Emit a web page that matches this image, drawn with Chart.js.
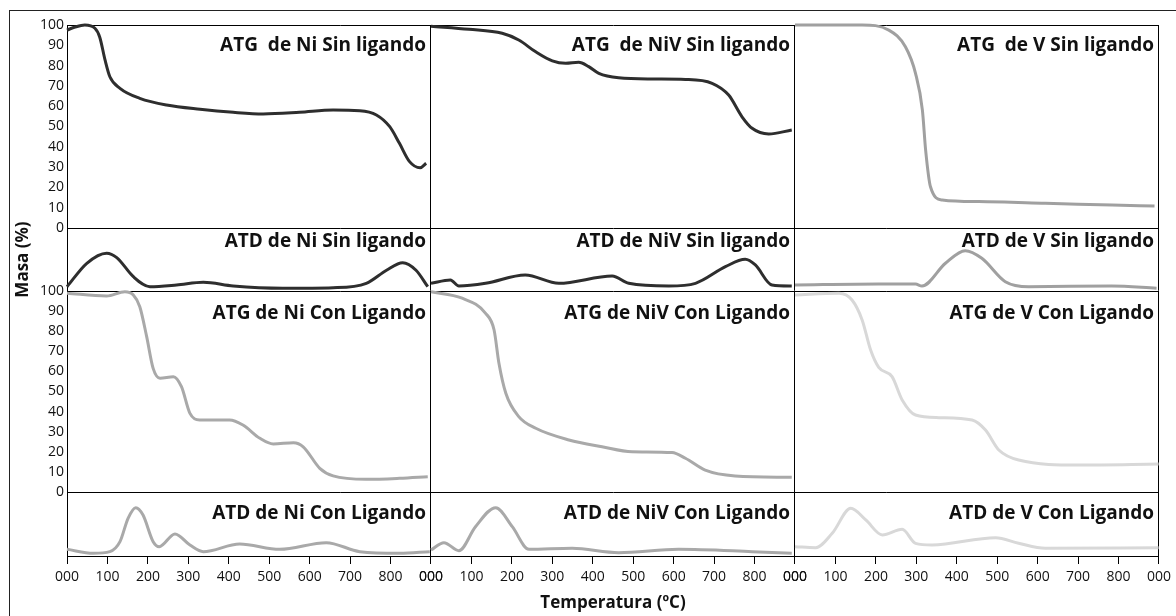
<!DOCTYPE html>
<html><head><meta charset="utf-8">
<script src="https://cdn.jsdelivr.net/npm/chart.js@4.4.1/dist/chart.umd.min.js"></script>
<style>html,body{margin:0;padding:0;background:#fff;overflow:hidden}#wrap{width:1176px;height:616px}</style>
</head><body><div id="wrap"><canvas id="c" width="1176" height="616"></canvas></div>
<script>
// ---------- data (temperature in ºC, mass in %, DTA in arbitrary units 0-100) ----------
const niSinTgT = [0, 20, 44, 69, 81, 94, 106, 131, 180, 246, 329, 411, 485, 575, 658, 724, 765, 798, 822, 847, 873, 888];
const niSinTgM = [97.5, 99, 100, 98.4, 94, 82.8, 74.5, 68.8, 63.9, 60.6, 58.5, 57.0, 56.2, 57, 58.1, 57.8, 55.7, 49.9, 41.7, 32.7, 29.7, 31.9];
const niSinTdT = [0, 49, 98, 123, 164, 205, 271, 337, 411, 534, 658, 740, 790, 830, 863, 892];
const niSinTdV = [6.8, 44, 60, 53, 22.7, 6.8, 9.5, 13.8, 7.9, 4.3, 5.2, 12.2, 33, 45, 33, 6.8];

const niVSinTgT = [0, 94, 176, 217, 258, 300, 333, 365, 390, 415, 464, 546, 629, 695, 736, 769, 794, 835, 892];
const niVSinTgM = [99.4, 97.9, 95.9, 92.6, 86.9, 82.3, 81.1, 81.6, 79.5, 76.2, 74, 73.4, 73.2, 71.3, 65.5, 54.8, 49.1, 46.3, 48.3];
const niVSinTdT = [0, 48, 69, 135, 233, 316, 448, 489, 588, 654, 728, 777, 802, 843, 892];
const niVSinTdV = [12.2, 17.5, 7.9, 12.2, 25.4, 12.2, 23.8, 12.2, 7.9, 12.2, 38.6, 50.3, 41.3, 9.5, 7.9];

const vSinTgT = [0, 166, 232, 273, 298, 315, 323, 335, 364, 454, 619, 784, 889];
const vSinTgM = [100, 100, 97.5, 89.3, 76.2, 58.1, 38.4, 20.3, 13.8, 13.0, 12.2, 11.3, 10.8];
const vSinTdT = [0, 207, 298, 314, 372, 421, 462, 520, 578, 783, 894];
const vSinTdV = [9.5, 11.1, 11, 7.9, 44, 64, 51.9, 14.8, 6.8, 7.9, 4.3];

const niConTgT = [0, 98, 143, 164, 180, 197, 213, 230, 263, 283, 304, 328, 402, 435, 477, 510, 560, 584, 625, 658, 740, 822, 892];
const niConTgM = [98.9, 97.5, 99.6, 98, 92.2, 77.3, 61.5, 56.6, 57.4, 52.4, 39.1, 35.8, 35.8, 33.3, 26.7, 23.9, 24.5, 22.5, 11.8, 8, 6.3, 6.8, 7.6];
const niConTdT = [0, 65, 106, 131, 151, 170, 188, 213, 228, 267, 304, 337, 427, 526, 641, 724, 822, 897];
const niConTdV = [10.4, 4.2, 6.8, 22.4, 58.9, 75.5, 64, 22.4, 14.6, 34.4, 17.2, 6.8, 18.8, 10.4, 20.8, 6.8, 4.2, 6.8];

const niVConTgT = [0, 77, 135, 156, 168, 185, 217, 259, 341, 423, 497, 596, 629, 678, 752, 892];
const niVConTgM = [99.6, 96.4, 88.9, 80.6, 64, 49.1, 37.5, 31.7, 25.9, 22.5, 20, 19.6, 16.8, 10.9, 8, 7.3];
const niVConTdT = [0, 32, 69, 110, 160, 201, 242, 349, 464, 612, 794, 892];
const niVConTdV = [9.4, 20.8, 8.3, 45.8, 75.5, 45.8, 10.4, 12, 5.2, 10.4, 6.8, 4.2];

const vConTgT = [0, 109, 141, 166, 187, 207, 240, 265, 298, 356, 438, 471, 504, 553, 701, 899];
const vConTgM = [98, 98.9, 95.5, 85.6, 70.6, 62, 57.4, 45.8, 38.3, 37, 35.8, 30.8, 20.9, 15.9, 13.4, 13.9];
const vConTdT = [0, 51, 92, 138, 175, 216, 265, 298, 339, 496, 553, 619, 899];
const vConTdV = [14.6, 13, 35.4, 74.5, 56.3, 32.8, 41.7, 19.8, 17.2, 28.6, 19.8, 12, 13];

const massTicks = [0, 10, 20, 30, 40, 50, 60, 70, 80, 90, 100];
const tempTicks = [0, 100, 200, 300, 400, 500, 600, 700, 800, 900];
const panelTitles = [
  ['x1', 'yA', 'ATG  de Ni Sin ligando'], ['x2', 'yA', 'ATG  de NiV Sin ligando'], ['x3', 'yA', 'ATG  de V Sin ligando'],
  ['x1', 'yB', 'ATD de Ni Sin ligando'], ['x2', 'yB', 'ATD de NiV Sin ligando'], ['x3', 'yB', 'ATD de V Sin ligando'],
  ['x1', 'yC', 'ATG de Ni Con Ligando'], ['x2', 'yC', 'ATG de NiV Con Ligando'], ['x3', 'yC', 'ATG de V Con Ligando'],
  ['x1', 'yD', 'ATD de Ni Con Ligando'], ['x2', 'yD', 'ATD de NiV Con Ligando'], ['x3', 'yD', 'ATD de V Con Ligando']
];

// ---------- styling ----------
const FONT = '"Open Sans", Lato, sans-serif';
const DARK = '#2e2e2e', MID = '#a0a0a0', GREY = '#a9a9a9', LIGHT = '#d8d8d8';
const titleOffset = { yA: 26, yB: 19, yC: 28, yD: 27 };

const pts = (T, V) => T.map((t, i) => ({ x: t, y: V[i] }));
const ds = (T, V, xid, yid, color) => ({
  data: pts(T, V), xAxisID: xid, yAxisID: yid, borderColor: color, borderWidth: 3,
  pointRadius: 0, fill: false, cubicInterpolationMode: 'monotone', clip: false
});

const datasets = [
  ds(niSinTgT, niSinTgM, 'x1', 'yA', DARK), ds(niSinTdT, niSinTdV, 'x1', 'yB', DARK),
  ds(niVSinTgT, niVSinTgM, 'x2', 'yA', DARK), ds(niVSinTdT, niVSinTdV, 'x2', 'yB', DARK),
  ds(vSinTgT, vSinTgM, 'x3', 'yA', MID), ds(vSinTdT, vSinTdV, 'x3', 'yB', MID),
  ds(niConTgT, niConTgM, 'x1', 'yC', GREY), ds(niConTdT, niConTdV, 'x1', 'yD', GREY),
  ds(niVConTgT, niVConTgM, 'x2', 'yC', GREY), ds(niVConTdT, niVConTdV, 'x2', 'yD', GREY),
  ds(vConTgT, vConTgM, 'x3', 'yC', LIGHT), ds(vConTdT, vConTdV, 'x3', 'yD', LIGHT)
];

const pad3 = v => String(v % 900 === 0 ? 0 : v).padStart(3, '0');

function xAxis(idx, title) {
  return {
    type: 'linear', position: 'bottom', stack: 'cols', stackWeight: 1, weight: idx,
    min: 0, max: 900,
    afterBuildTicks: s => { s.ticks = tempTicks.map(v => ({ value: v })); },
    afterFit: s => { s.height = 60; },
    grid: {
      drawOnChartArea: true, drawTicks: true, tickLength: 8, tickColor: '#000', lineWidth: 1,
      color: c => (c.tick && (c.tick.value === 900 || (idx === 1 && c.tick.value === 0))) ? '#000' : 'rgba(0,0,0,0)'
    },
    border: { display: true, color: '#000' },
    ticks: { autoSkip: false, maxRotation: 0, padding: 5, color: '#111', font: { family: FONT, size: 14 }, callback: pad3 },
    title: { display: title, text: 'Temperatura (ºC)', color: '#111', font: { family: FONT, size: 17, weight: 'bold' }, padding: { top: 0, bottom: 3 } }
  };
}
function yAxis(weight, showTicks, edges, title) {
  return {
    type: 'linear', position: 'left', stack: 'rows', stackWeight: 1, weight: weight,
    min: 0, max: 100,
    afterBuildTicks: s => { s.ticks = (showTicks ? massTicks : [0, 100]).map(v => ({ value: v })); },
    afterFit: s => { s.width = 58; },
    grid: {
      drawOnChartArea: true, drawTicks: false, lineWidth: 1,
      color: c => (c.tick && edges.includes(c.tick.value)) ? '#000' : 'rgba(0,0,0,0)'
    },
    border: { display: true, color: '#000' },
    ticks: { display: showTicks, autoSkip: false, padding: 3, color: '#111', font: { family: FONT, size: 14 } },
    title: { display: !!title, text: title || '', color: '#111', font: { family: FONT, size: 17, weight: 'bold' }, padding: { top: 4, bottom: 0 } }
  };
}

const frame = {
  id: 'frame',
  beforeDraw(chart) {
    const ctx = chart.ctx;
    ctx.save(); ctx.strokeStyle = '#222'; ctx.lineWidth = 1;
    ctx.strokeRect(9.5, 10.5, 1300, 700); ctx.restore();
  }
};
const titles = {
  id: 'panelTitles',
  afterDatasetsDraw(chart) {
    const ctx = chart.ctx;
    ctx.save();
    ctx.font = 'bold 19px ' + FONT; ctx.fillStyle = '#111';
    ctx.textAlign = 'right'; ctx.textBaseline = 'alphabetic';
    for (const [xid, yid, text] of panelTitles) {
      const xs = chart.scales[xid], ys = chart.scales[yid];
      ctx.fillText(text, xs.right - 5, ys.top + titleOffset[yid]);
    }
    ctx.restore();
  }
};

// stack weights follow the panel heights of the reference (ATG / ATD / ATG / ATD)
const sA = yAxis(4, true, [0, 100]); sA.stackWeight = 203;
const sB = yAxis(3, false, [0], 'Masa (%)'); sB.stackWeight = 63;
const sC = yAxis(2, true, [0]); sC.stackWeight = 201;
const sD = yAxis(1, false, [0]); sD.stackWeight = 64;

new Chart(document.getElementById('c'), {
  type: 'line',
  data: { datasets },
  options: {
    responsive: false, animation: false, parsing: true,
    layout: { padding: { left: 9, top: 25, right: 16, bottom: 0 } },
    plugins: { legend: { display: false }, tooltip: { enabled: false } },
    scales: { x1: xAxis(1, false), x2: xAxis(2, true), x3: xAxis(3, false), yA: sA, yB: sB, yC: sC, yD: sD }
  },
  plugins: [frame, titles]
});
</script></body></html>
